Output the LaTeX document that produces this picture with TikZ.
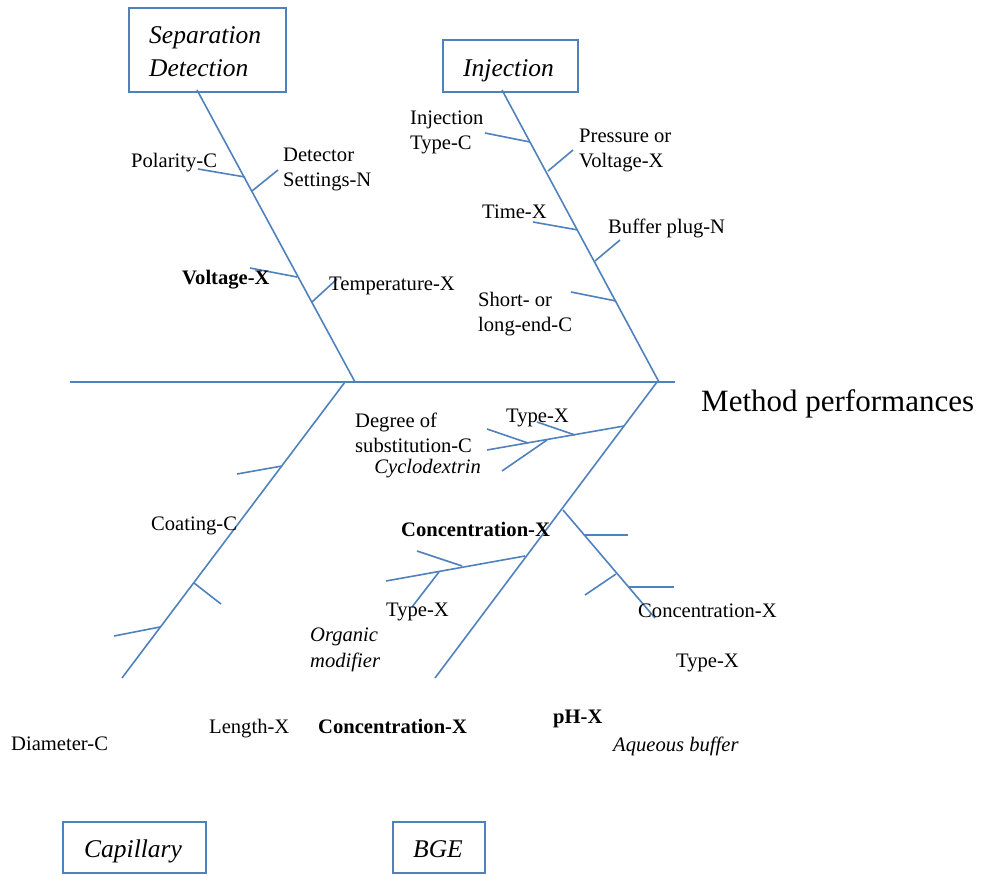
\documentclass[tikz,border=0pt]{standalone}
\usepackage{fontspec}
\setmainfont{Liberation Serif}
\definecolor{bl}{HTML}{4F81BD}
\begin{document}
\begin{tikzpicture}[x=1pt,y=-1pt,
  every node/.style={inner sep=0pt,font=\fontsize{20.6}{25}\selectfont},
  lbl/.style={anchor=base west},
  mlbl/.style={anchor=west,align=left,yshift=-3pt},
  bone/.style={draw=bl,line width=1.6pt},
  twig/.style={draw=bl,line width=1.6pt},
  catbox/.style={draw=bl,line width=1.8pt},
  cattext/.style={anchor=base west,align=left,font=\fontsize{25.5}{32}\selectfont\itshape}
]
\useasboundingbox (0,0) rectangle (984,875);

% category boxes
\node[catbox,minimum width=157pt,minimum height=84pt] (sd) at (207.5,50) {};
\node[catbox,minimum width=135pt,minimum height=52pt] (inj) at (510.5,66) {};
\node[catbox,minimum width=143pt,minimum height=51pt] (cap) at (134.5,847.5) {};
\node[catbox,minimum width=92pt,minimum height=51pt] (bge) at (439,847.5) {};
\node[cattext] (sdt1) at (149,44) {Separation};
\node[cattext] (sdt2) at (149,76) {Detection};
\node[cattext] (injt) at (463,76) {Injection};
\node[cattext] (capt) at (84,857) {Capillary};
\node[cattext] (bget) at (413,857) {BGE};

% spine and bones
\coordinate (spL) at (70,382);
\coordinate (spR) at (675,382);
\coordinate (sdTop) at (197,90);
\coordinate (sdEnd) at (355,382);
\coordinate (inTop) at (502,90);
\coordinate (inEnd) at (659,382);
\coordinate (caTop) at (345,382);
\coordinate (caEnd) at (122,678);
\coordinate (bgTop) at (657,382);
\coordinate (bgEnd) at (435,678);
\draw[bone] (spL) -- (spR);
\draw[bone] (sdTop) -- (sdEnd);
\draw[bone] (inTop) -- (inEnd);
\draw[bone] (caTop) -- (caEnd);
\draw[bone] (bgTop) -- (bgEnd);

\node[anchor=base west,font=\fontsize{31}{36}\selectfont] (mp) at (701,411) {Method performances};

% Separation / Detection
\draw[twig] (198,169) -- (245,177);
\draw[twig] (252,191) -- (278,170);
\draw[twig] (250,268) -- (297,277);
\draw[twig] (312,302) -- (337,279);
\node[lbl] (pol) at (131,167.5) {Polarity-C};
\node[mlbl] (det) at (283,166) {Detector\\Settings-N};
\node[lbl,font=\fontsize{20.6}{25}\selectfont\bfseries] (volt) at (182,284.5) {Voltage-X};
\node[lbl] (temp) at (329,290.5) {Temperature-X};

% Injection
\draw[twig] (485,133) -- (530,142);
\draw[twig] (548,171) -- (573,150);
\draw[twig] (533,222) -- (578,230);
\draw[twig] (595,261) -- (620,240);
\draw[twig] (571,292) -- (616,301);
\node[mlbl] (ityp) at (410,129.5) {Injection\\Type-C};
\node[mlbl] (pres) at (579,147.5) {Pressure or\\Voltage-X};
\node[lbl] (time) at (482,218.5) {Time-X};
\node[lbl] (buf) at (608,233.5) {Buffer plug-N};
\node[mlbl] (short) at (478,311.5) {Short- or\\long-end-C};

% Capillary
\draw[twig] (282,466) -- (237,474);
\draw[twig] (194,583) -- (221,604);
\draw[twig] (160,627) -- (114,636);
\node[lbl] (coat) at (151,530.5) {Coating-C};
\node[lbl] (diam) at (11,750.5) {Diameter-C};
\node[lbl] (len) at (209,733.5) {Length-X};

% BGE: cyclodextrin
\draw[twig] (624,426) -- (487,450);
\draw[twig] (487,429) -- (528,443);
\draw[twig] (537,422) -- (575,435);
\draw[twig] (502,471) -- (547,440);
\node[mlbl] (deg) at (355,429.5) {Degree of\\substitution-C};
\node[anchor=base east,font=\fontsize{20.6}{25}\selectfont\itshape] (cyc) at (481,473.5) {Cyclodextrin};
\node[lbl] (ctyp) at (506,422.5) {Type-X};

% BGE: organic modifier
\draw[twig] (525,556) -- (386,581);
\draw[twig] (417,551) -- (462,566);
\draw[twig] (439,572) -- (412,607);
\node[lbl,font=\fontsize{20.6}{25}\selectfont\bfseries] (oconc) at (401,536.5) {Concentration-X};
\node[lbl] (otyp) at (386,616.5) {Type-X};
\node[mlbl,font=\fontsize{20.6}{25.5}\selectfont\itshape] (org) at (310,647) {Organic\\modifier};

% BGE: aqueous buffer
\draw[twig] (563,510) -- (655,618);
\draw[twig] (585,535) -- (628,535);
\draw[twig] (629,587) -- (674,587);
\draw[twig] (616,574) -- (585,595);
\node[lbl] (aconc) at (638,617.5) {Concentration-X};
\node[lbl] (atyp) at (676,667.5) {Type-X};
\node[lbl,font=\fontsize{20.6}{25}\selectfont\bfseries] (ph) at (553,723.5) {pH-X};
\node[lbl,font=\fontsize{20.6}{25}\selectfont\itshape] (aq) at (613,751.5) {Aqueous buffer};
\node[lbl,font=\fontsize{20.6}{25}\selectfont\bfseries] (bconc) at (318,733.5) {Concentration-X};
\end{tikzpicture}
\end{document}
